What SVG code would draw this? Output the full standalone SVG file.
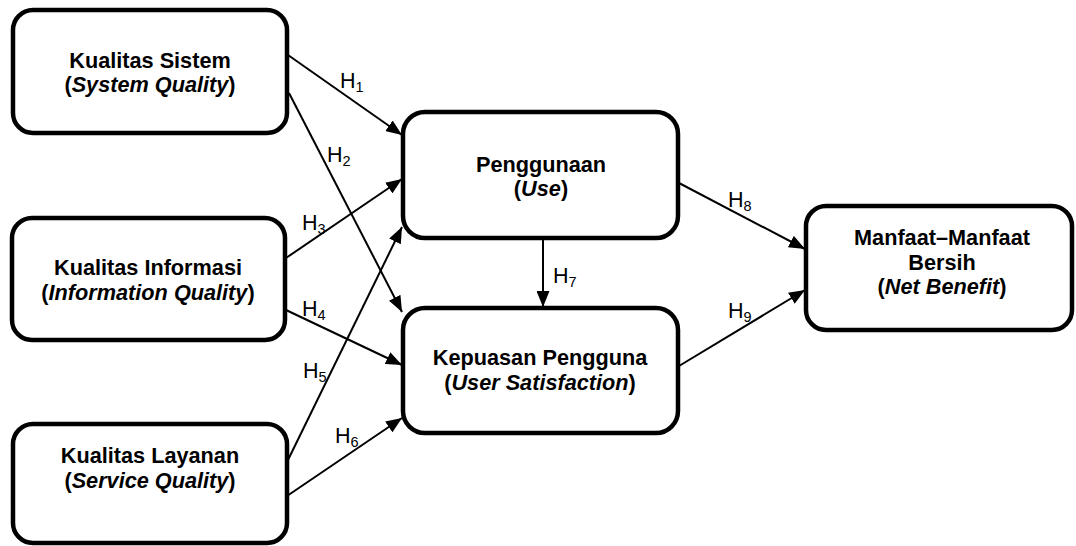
<svg xmlns="http://www.w3.org/2000/svg" width="1076" height="546" viewBox="0 0 1076 546">
<style>
.box{fill:#fff;stroke:#000;stroke-width:4.5}
.t{font-family:"Liberation Sans",Arial,sans-serif;font-size:21.7px;font-weight:bold;text-anchor:middle;fill:#000}
.i{font-style:italic}
.c{stroke:#000;stroke-width:2;fill:none;marker-end:url(#ah)}
.h{font-family:"Liberation Sans",Arial,sans-serif;font-size:21.5px;fill:#000}
.s{font-size:14.5px}
</style>
<defs>
<marker id="ah" markerUnits="userSpaceOnUse" markerWidth="17" markerHeight="13" refX="16" refY="6.5" orient="auto">
<path d="M0,0 L16,6.5 L0,13 z" fill="#000"/>
</marker>
</defs>
<rect width="1076" height="546" fill="#fff"/>
<g id="connectors">
<path class="c" d="M288,55 L402,135"/>
<path class="c" d="M289,93 L402,312"/>
<path class="c" d="M286,258 L402,179"/>
<path class="c" d="M286,310 L402,365"/>
<path class="c" d="M287,462 L402,227"/>
<path class="c" d="M287,496 L402,418"/>
<path class="c" d="M543,239 L543,307"/>
<path class="c" d="M679,183 L805,249"/>
<path class="c" d="M679,366 L805,290"/>
</g>
<g id="labels">
<text class="h" x="340" y="88">H<tspan class="s" dy="4">1</tspan></text>
<text class="h" x="327" y="162">H<tspan class="s" dy="4">2</tspan></text>
<text class="h" x="302" y="230">H<tspan class="s" dy="4">3</tspan></text>
<text class="h" x="302" y="316">H<tspan class="s" dy="4">4</tspan></text>
<text class="h" x="303" y="378">H<tspan class="s" dy="4">5</tspan></text>
<text class="h" x="335" y="443">H<tspan class="s" dy="4">6</tspan></text>
<text class="h" x="553" y="283">H<tspan class="s" dy="4">7</tspan></text>
<text class="h" x="728" y="207">H<tspan class="s" dy="4">8</tspan></text>
<text class="h" x="728" y="318">H<tspan class="s" dy="4">9</tspan></text>
</g>
<g id="node-sistem">
<rect class="box" x="13" y="10" width="274" height="123" rx="20"/>
<text class="t" x="150" y="68">Kualitas Sistem</text>
<text class="t" x="150" y="92">(<tspan class="i">System Quality</tspan>)</text>
</g>
<g id="node-informasi">
<rect class="box" x="12" y="218" width="273" height="122" rx="20"/>
<text class="t" x="148" y="275">Kualitas Informasi</text>
<text class="t" x="148" y="300">(<tspan class="i">Information Quality</tspan>)</text>
</g>
<g id="node-layanan">
<rect class="box" x="13" y="424" width="274" height="119" rx="20"/>
<text class="t" x="150" y="463">Kualitas Layanan</text>
<text class="t" x="150" y="488">(<tspan class="i">Service Quality</tspan>)</text>
</g>
<g id="node-penggunaan">
<rect class="box" x="403" y="112" width="275" height="126" rx="22"/>
<text class="t" x="541" y="172">Penggunaan</text>
<text class="t" x="541" y="196">(<tspan class="i">Use</tspan>)</text>
</g>
<g id="node-kepuasan">
<rect class="box" x="403" y="308" width="275" height="125" rx="22"/>
<text class="t" x="540" y="365">Kepuasan Pengguna</text>
<text class="t" x="540" y="390">(<tspan class="i">User Satisfaction</tspan>)</text>
</g>
<g id="node-manfaat">
<rect class="box" x="806" y="206" width="266" height="124" rx="20"/>
<text class="t" x="942" y="245">Manfaat–Manfaat</text>
<text class="t" x="942" y="270">Bersih</text>
<text class="t" x="942" y="294">(<tspan class="i">Net Benefit</tspan>)</text>
</g>
</svg>
